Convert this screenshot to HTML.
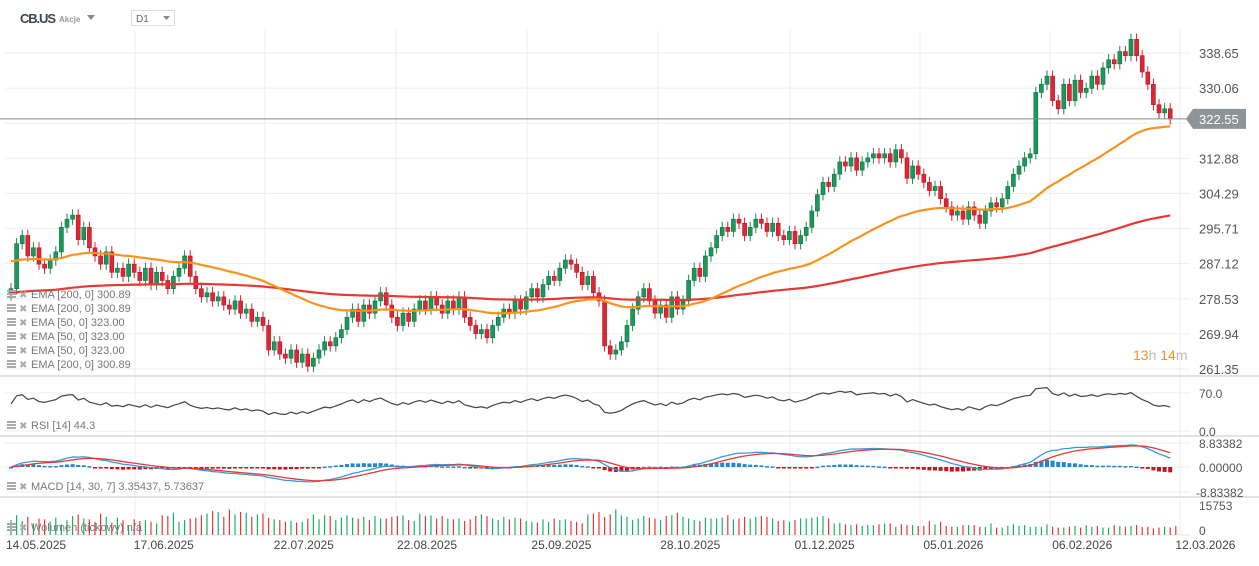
<!DOCTYPE html>
<html><head><meta charset="utf-8"><style>
html,body{margin:0;padding:0;background:#fff;}
body{width:1259px;height:561px;overflow:hidden;font-family:"Liberation Sans",sans-serif;}
svg text{font-family:"Liberation Sans",sans-serif;}
</style></head><body>
<svg id="chart" width="1259" height="561" viewBox="0 0 1259 561" xmlns="http://www.w3.org/2000/svg">
<g id="grid"></g>
<g id="vol"></g>
<g id="macd"></g>
<g id="rsi"></g>
<g id="main"></g>
<g id="axes"></g>
<g>
<text x="20" y="23" font-size="13" font-weight="bold" fill="#37474f" textLength="36">CB.US</text>
<text x="59" y="22" font-size="8" font-weight="bold" fill="#999">Akcje</text>
<path d="M87 15 L95 15 L91 20 Z" fill="#888"/>
<rect x="131.5" y="10.5" width="43" height="15" fill="#fff" stroke="#ddd"/>
<text x="136" y="22" font-size="10" fill="#666">D1</text>
<path d="M163 16 L170 16 L166.5 20 Z" fill="#888"/>
</g>
<g>
<text x="1133" y="360" font-size="14"><tspan fill="#f7931e">13</tspan><tspan fill="#bbb">h </tspan><tspan fill="#f7931e">14</tspan><tspan fill="#bbb">m</tspan></text>
</g>
<g id="legend"></g>
</svg>
<script>
const closes=[281,292,294,289,291,287,286,288,290,296,298,299,293,296,291,289,287,290,285,286,284,287,285,283,286,282,285,283,281,284,286,289,284,281,279,280,278,279,277,276,278,275,276,273,274,272,266,268,265,264,266,263,265,262,264,266,268,267,269,271,274,276,273,277,275,278,280,277,274,272,275,273,276,278,276,279,277,275,278,276,279,274,272,270,271,269,272,274,276,275,278,276,279,281,279,282,284,283,286,288,287,285,282,284,280,278,267,265,266,268,272,276,279,281,278,275,277,274,279,276,278,283,286,284,289,291,294,296,295,298,297,294,296,298,297,295,297,294,293,295,292,294,296,300,304,307,306,309,312,311,313,310,312,313,314,313,314,312,315,313,308,311,309,307,305,306,303,301,299,300,298,301,299,297,300,302,301,303,306,309,311,313,314,329,331,333,327,325,331,327,332,329,330,333,331,335,337,336,339,338,342,338,334,331,326,324,325,322.55];
const volumes=[9000,12000,8500,11000,7000,10000,9500,8000,10500,6500,9000,11500,12500,10000,9500,8000,13000,11000,7500,10500,9000,6000,9500,8500,9000,8000,7000,12000,11500,13500,8000,9000,10000,10500,12000,13000,14500,14000,11000,15500,12500,14000,13500,11000,12500,13000,10500,9500,9000,8000,8500,7500,8000,10000,12500,9500,12000,11500,9000,10500,12000,10500,10000,11000,9000,11500,10000,10000,11000,11500,12000,9000,8500,13000,11500,12000,10000,11500,10000,9500,10000,8500,9500,11500,12500,11500,10000,9000,11000,9500,10500,10000,8500,8000,7500,9500,8000,10000,9000,9500,8500,8000,7000,12500,13000,14000,11000,12500,15500,12000,11000,9000,10000,11500,10500,10000,9000,11500,12000,13500,11000,10000,9000,8500,10500,10000,10000,10500,12000,9500,10000,11000,10000,11000,11500,11000,10000,8500,9000,8000,9000,10000,10000,10500,11000,11500,10000,7000,7500,6500,6000,6500,5500,6000,6000,6500,7000,7000,5000,6500,6000,6000,5500,5500,8500,6500,8000,5500,5000,5000,6000,6000,6000,5000,5000,7000,4500,4500,5500,6500,5500,6000,5000,5000,5000,6500,5000,4500,4500,5000,5500,4500,6000,5000,5500,4500,4500,6000,5500,5000,5500,6000,5000,5000,4000,4500,5000,4500,5500];
const priceTicks=["338.65","330.06","321.47","312.88","304.29","295.71","287.12","278.53","269.94","261.35"];
const dateLabels=["14.05.2025","17.06.2025","22.07.2025","22.08.2025","25.09.2025","28.10.2025","01.12.2025","05.01.2026","06.02.2026","12.03.2026"];
const dateIndex=[0,23,48,70,94,117,141,164,187,209];

const NS="http://www.w3.org/2000/svg";
function mk(tag,attrs,parent){const e=document.createElementNS(NS,tag);for(const k in attrs)e.setAttribute(k,attrs[k]);parent.appendChild(e);return e;}
const N=closes.length, X0=11, DX=5.6;
const xS=i=>X0+i*DX;
const yP=p=>53+(338.65-p)*4.088;
const yR=v=>431-v*(38/70);
const yM=v=>467-v*(24.5/8.83382);
const yV=v=>531-v*(26/15753);
const G=document.getElementById('grid'),M=document.getElementById('main'),A=document.getElementById('axes');

[135,265,396,527,658,790,920,1050,1180].forEach(x=>{const l=mk('line',{x1:x,x2:x,y1:30,y2:535,stroke:'#eeeeee'},G);});
priceTicks.forEach(t=>{const y=yP(+t);const l=mk('line',{x1:5,x2:1190,y1:y,y2:y,stroke:'#eeeeee'},G);});
[393,431].forEach(y=>{const l=mk('line',{x1:5,x2:1190,y1:y,y2:y,stroke:'#eeeeee'},G);});
[443,467,492].forEach(y=>{const l=mk('line',{x1:5,x2:1190,y1:y,y2:y,stroke:'#eeeeee'},G);});
[376,436,497].forEach(y=>{const l=mk('line',{x1:0,x2:1259,y1:y,y2:y,stroke:'#d8d8d8','stroke-width':1.5},G);});
mk('line',{x1:5,x2:1190,y1:535,y2:535,stroke:'#e4e4e4'},G);

for(let i=0;i<N;i++){
  const c=closes[i],o=i?closes[i-1]:c-1.5;
  const up=c>=o,col=up?'#1b8a52':'#d3202f';
  const hi=Math.max(o,c)+1.4,lo=Math.min(o,c)-1.4,x=xS(i);
  const w=mk('line',{x1:x,x2:x,y1:yP(hi),y2:yP(lo),stroke:col,'stroke-width':1},M);
  
  const top=yP(Math.max(o,c)),h=Math.max(1.5,yP(Math.min(o,c))-top);
  const r=mk('rect',{x:x-2,y:top,width:4,height:h,fill:up?'#1a9a5a':'#e02535',stroke:up?'#146b40':'#a81a26','stroke-width':0.6},M);
  
}
function ema(arr,n,seed){const a=2/(n+1);let e=seed;return arr.map(v=>e=e+a*(v-e));}
const ema50=ema(closes,50,288),ema200=ema(closes,200,280);
function poly(vals,fy,col,w,name,parent){const p=mk('polyline',{points:vals.map((v,i)=>xS(i)+','+fy(v)).join(' '),fill:'none',stroke:col,'stroke-width':w,'stroke-linejoin':'round'},parent);return p;}
poly(ema200,yP,'#e53935',2.2,'ema-200-line',M);
poly(ema50,yP,'#f7931e',2.2,'ema-50-line',M);
const last=closes[N-1],yl=yP(last);
const pl=mk('line',{x1:0,x2:1190,y1:yl,y2:yl,stroke:'#888',"stroke-width":1},M);
const pb=mk('path',{d:`M1186 ${yl} L1193 ${yl-10} L1246 ${yl-10} L1246 ${yl+10} L1193 ${yl+10} Z`,fill:'#8d9598'},M);
const pt=mk('text',{x:1199,y:yl+5,'font-size':13,fill:'#fff'},M);pt.textContent=last.toFixed(2);

priceTicks.forEach(t=>{if(t==="321.47")return;const e=mk('text',{x:1199,y:yP(+t)+5,'font-size':13,fill:'#555'},A);e.textContent=t;});
[["70.0",393],["0.0",431]].forEach(([t,y])=>{const e=mk('text',{x:1199,y:y+5,'font-size':12,fill:'#555'},A);e.textContent=t;});
[["8.83382",443],["0.00000",467],["-8.83382",492]].forEach(([t,y])=>{const e=mk('text',{x:t[0]=='-'?1196:1199,y:y+5,'font-size':12,fill:'#555'},A);e.textContent=t;});
[["15753",506],["0",531]].forEach(([t,y])=>{const e=mk('text',{x:1199,y:y+4,'font-size':12,fill:'#555'},A);e.textContent=t;});
dateLabels.forEach((t,k)=>{const e=mk('text',{x:k==0?6:Math.min(xS(dateIndex[k])-6,1176),y:549,'font-size':12,fill:'#444'},A);e.textContent=t;});

const R=document.getElementById('rsi');
let ag=1,al=1;const rsi=[50];
for(let i=1;i<N;i++){const d=closes[i]-closes[i-1];ag=(ag*13+Math.max(d,0))/14;al=(al*13+Math.max(-d,0))/14;rsi.push(al==0?100:100-100/(1+ag/al));}
poly(rsi,yR,'#444',1.2,'rsi-line',R);

const MG=document.getElementById('macd');
const e14=ema(closes,14,closes[0]),e30=ema(closes,30,closes[0]);
const macd=e14.map((v,i)=>v-e30[i]);const sig=ema(macd,7,0);
macd.forEach((v,i)=>{const h=v-sig[i];const y0=yM(0),y1=yM(h);const r=mk('rect',{x:xS(i)-2,y:Math.min(y0,y1),width:4,height:Math.max(1.5,Math.abs(y1-y0)),fill:h>=0?'#1e88d0':'#d0101c'},MG);});
poly(macd,yM,'#3a9ad9',1.3,'macd-line',MG);
poly(sig,yM,'#e53935',1.3,'macd-signal-line',MG);

const V=document.getElementById('vol');
volumes.forEach((v,i)=>{const up=i==0||closes[i]>=closes[i-1];const l=mk('line',{x1:xS(i),x2:xS(i),y1:535,y2:yV(v)+4,stroke:up?'#17b06b':'#e53935','stroke-width':1.2},V);});

const L=document.getElementById('legend');
function leg(y,txt,name){
  const g=mk('g',{},L);
  mk('rect',{x:7,y:y-8,width:9,height:2,fill:'#aaa'},g);mk('rect',{x:7,y:y-5,width:9,height:2,fill:'#aaa'},g);mk('rect',{x:7,y:y-2,width:9,height:2,fill:'#aaa'},g);
  const t0=mk('text',{x:19,y:y,'font-size':10,fill:'#aaa'},g);t0.textContent='✖';
  const t=mk('text',{x:31,y:y,'font-size':11,fill:'#777'},g);t.textContent=txt;
}
leg(298,'EMA [200,  0] 300.89','legend-ema-200');
leg(312,'EMA [200,  0] 300.89','legend-ema-200');
leg(326,'EMA [50,  0] 323.00','legend-ema-50');
leg(340,'EMA [50,  0] 323.00','legend-ema-50');
leg(354,'EMA [50,  0] 323.00','legend-ema-50');
leg(368,'EMA [200,  0] 300.89','legend-ema-200');
leg(429,'RSI [14]  44.3','legend-rsi');
leg(490,'MACD [14,  30,  7] 3.35437,  5.73637','legend-macd');
leg(531,'Wolumen  (tickowy)  n/a','legend-volume');
</script>
</body></html>
